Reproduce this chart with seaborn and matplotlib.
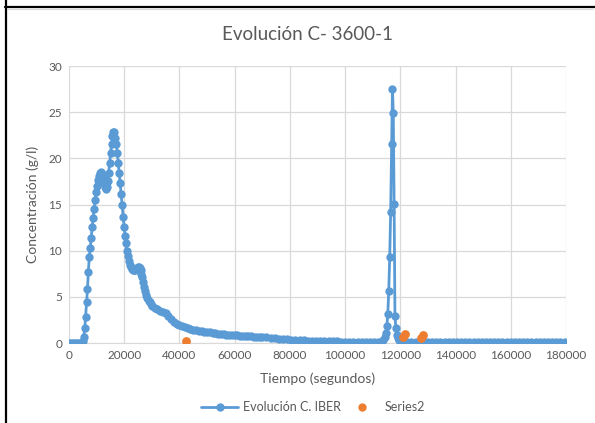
import numpy as np
import pandas as pd
import matplotlib
matplotlib.use("Agg")
import matplotlib.pyplot as plt
from matplotlib.lines import Line2D
import seaborn as sns

# Evolución C. IBER (tiempo en s, concentración en g/l)
tiempo_iber = [
    0, 700, 1400, 2100, 2800, 3500, 4200, 4700,
    5000, 5350, 5700, 6000, 6350, 6700, 7000, 7350, 7700, 8050,
    8400, 8750, 9100, 9450, 9800, 10150, 10500, 10850, 11200, 11550,
    11900, 12250, 12600, 12950, 13300, 13650, 14000, 14350, 14700, 15050,
    15400, 15750, 16100, 16450, 16800, 17150, 17500, 17850, 18200, 18550,
    18900, 19250, 19600, 19950, 20300, 20650, 21000, 21350, 21700, 22050,
    22400, 22750, 23100, 23450, 23800, 24150, 24500, 24850, 25200, 25550,
    25900, 26250, 26600, 26950, 27300, 27650, 28000, 28400, 28800, 29200,
    29600, 30000, 31000, 32000, 33000, 34000, 35000, 36000, 37000, 38000,
    39000, 40000, 41000, 42000, 43000, 44000, 45000, 46000, 47000, 48000,
    49000, 50000, 51000, 52000, 53000, 54000, 55000, 56000, 57000, 58000,
    59000, 60000, 61000, 62000, 63000, 64000, 65000, 66000, 67000, 68000,
    69000, 70000, 71500, 73000, 74500, 76000, 77500, 79000, 80500, 82000,
    83500, 85000, 86500, 88000, 89500, 91000, 92500, 94000, 95500, 97000,
    98500, 100000, 101500, 103000, 104500, 106000, 107500, 109000, 110500, 112000,
    113000, 113800, 114400, 114800, 115100, 115450, 115800, 116150, 116500, 116850,
    117150, 117450, 117750, 118050, 118400, 118750, 119100, 119500, 120000, 121000,
    122500, 124000, 125500, 127000, 128500, 130000, 131500, 133000, 134500, 136000,
    137500, 139000, 140500, 142000, 143500, 145000, 146500, 148000, 149500, 151000,
    152500, 154000, 155500, 157000, 158500, 160000, 161500, 163000, 164500, 166000,
    167500, 169000, 170500, 172000, 173500, 175000, 176500, 178000, 179500,
]
conc_iber = [
    0.0, 0.0, 0.0, 0.0, 0.0, 0.0, 0.0, 0.05,
    0.2, 0.7, 1.6, 2.8, 4.4, 5.9, 7.7, 9.3, 10.3, 11.4,
    12.6, 13.5, 14.5, 15.5, 16.3, 17.0, 17.6, 18.1, 18.4, 18.5,
    18.3, 17.9, 17.3, 16.9, 16.7, 16.9, 17.5, 18.4, 19.5, 20.6,
    21.6, 22.4, 22.9, 22.8, 22.2, 21.5, 20.6, 19.5, 18.4, 17.3,
    16.1, 14.9, 13.7, 12.6, 11.6, 10.8, 10.0, 9.4, 8.9, 8.5,
    8.2, 8.0, 7.9, 7.9, 7.9, 8.0, 8.1, 8.2, 8.2, 8.1,
    7.9, 7.5, 7.1, 6.6, 6.1, 5.6, 5.2, 4.9, 4.6, 4.4,
    4.2, 4.0, 3.8, 3.65, 3.5, 3.35, 3.2, 2.9, 2.6, 2.3,
    2.1, 1.95, 1.8, 1.7, 1.6, 1.52, 1.45, 1.38, 1.32, 1.27,
    1.23, 1.19, 1.15, 1.1, 1.06, 1.02, 0.98, 0.95, 0.92, 0.89,
    0.86, 0.84, 0.82, 0.8, 0.78, 0.76, 0.74, 0.72, 0.7, 0.68,
    0.67, 0.65, 0.6, 0.55, 0.5, 0.45, 0.41, 0.38, 0.35, 0.32,
    0.3, 0.28, 0.26, 0.25, 0.23, 0.22, 0.2, 0.19, 0.18, 0.17,
    0.16, 0.15, 0.15, 0.14, 0.14, 0.13, 0.13, 0.12, 0.12, 0.12,
    0.15, 0.3, 0.6, 1.1, 1.8, 3.1, 5.6, 9.3, 14.2, 21.6,
    27.5, 24.9, 15.1, 2.9, 1.6, 0.9, 0.5, 0.3, 0.2, 0.14,
    0.12, 0.12, 0.12, 0.12, 0.12, 0.12, 0.12, 0.12, 0.12, 0.12,
    0.12, 0.12, 0.12, 0.12, 0.12, 0.12, 0.12, 0.12, 0.12, 0.12,
    0.12, 0.12, 0.12, 0.12, 0.12, 0.12, 0.12, 0.12, 0.12, 0.12,
    0.12, 0.12, 0.12, 0.12, 0.12, 0.12, 0.12, 0.12, 0.12,
]

# Series2
tiempo_s2 = [42400, 120900, 121700, 127400, 128300]
conc_s2 = [0.25, 0.65, 1.0, 0.5, 0.9]

x_ticks = list(range(0, 180001, 20000))
y_ticks = [0, 5, 10, 15, 20, 25, 30]

blue = "#5B9BD5"
orange = "#ED7D31"
grey_txt = "#595959"
grid_col = "#D9D9D9"

sns.set_style("white")
plt.rcParams['font.family'] = ['Lato', 'DejaVu Sans']

df_iber = pd.DataFrame({"t": tiempo_iber, "c": conc_iber})
df_s2 = pd.DataFrame({"t": tiempo_s2, "c": conc_s2})

fig = plt.figure(figsize=(5.95, 4.23), dpi=100)
ax = fig.add_axes([69 / 595, 1 - 343 / 423, 497 / 595, 277 / 423])

sns.lineplot(data=df_iber, x="t", y="c", ax=ax, sort=False, estimator=None,
             color=blue, linewidth=2.0, marker="o", markersize=6,
             markeredgewidth=0, label="Evolución C. IBER", zorder=3)
sns.scatterplot(data=df_s2, x="t", y="c", ax=ax, color=orange, s=40,
                linewidth=0, label="Series2", zorder=4)

ax.set_xlim(0, 180000)
ax.set_ylim(0, 30)
ax.set_xticks(x_ticks)
ax.set_xticklabels([str(v) for v in x_ticks])
ax.set_yticks(y_ticks)
ax.grid(True, color=grid_col, linewidth=0.9)
ax.set_axisbelow(True)
for s in ["top", "right", "left"]:
    ax.spines[s].set_visible(False)
ax.spines["bottom"].set_color(grid_col)
ax.tick_params(axis="both", length=0, labelsize=8.5, colors=grey_txt, pad=5)

ax.set_xlabel("Tiempo (segundos)", fontsize=10, color=grey_txt, labelpad=8)
ax.set_ylabel("Concentración (g/l)", fontsize=10, color=grey_txt, labelpad=7)
fig.text(307 / 595, 1 - 35 / 423, "Evolución C- 3600-1", fontsize=13.5,
         color=grey_txt, ha="center", va="center")

ax.get_legend().remove()
handles = [
    Line2D([0], [0], color=blue, lw=2.0, marker="o", markersize=6, markeredgewidth=0),
    Line2D([0], [0], color=orange, lw=0, marker="o", markersize=6, markeredgewidth=0),
]
fig.legend(handles, ["Evolución C. IBER", "Series2"], loc="center",
           bbox_to_anchor=(313 / 595, 1 - 407 / 423), ncol=2, frameon=False,
           fontsize=9, labelcolor=grey_txt, handlelength=3.0,
           handletextpad=0.35, columnspacing=0.2)

# marco del gráfico
fig.add_artist(Line2D([5.5 / 595, 5.5 / 595], [0, 1], color="black", lw=1.6,
                      transform=fig.transFigure))
fig.add_artist(Line2D([5 / 595, 1], [1 - 7.5 / 423, 1 - 7.5 / 423], color="black",
                      lw=1.6, transform=fig.transFigure))
fig.add_artist(Line2D([7 / 595, 593 / 595], [1 - 9.5 / 423, 1 - 9.5 / 423],
                      color=grid_col, lw=0.8, transform=fig.transFigure))

fig.savefig("out.png", dpi=100)
